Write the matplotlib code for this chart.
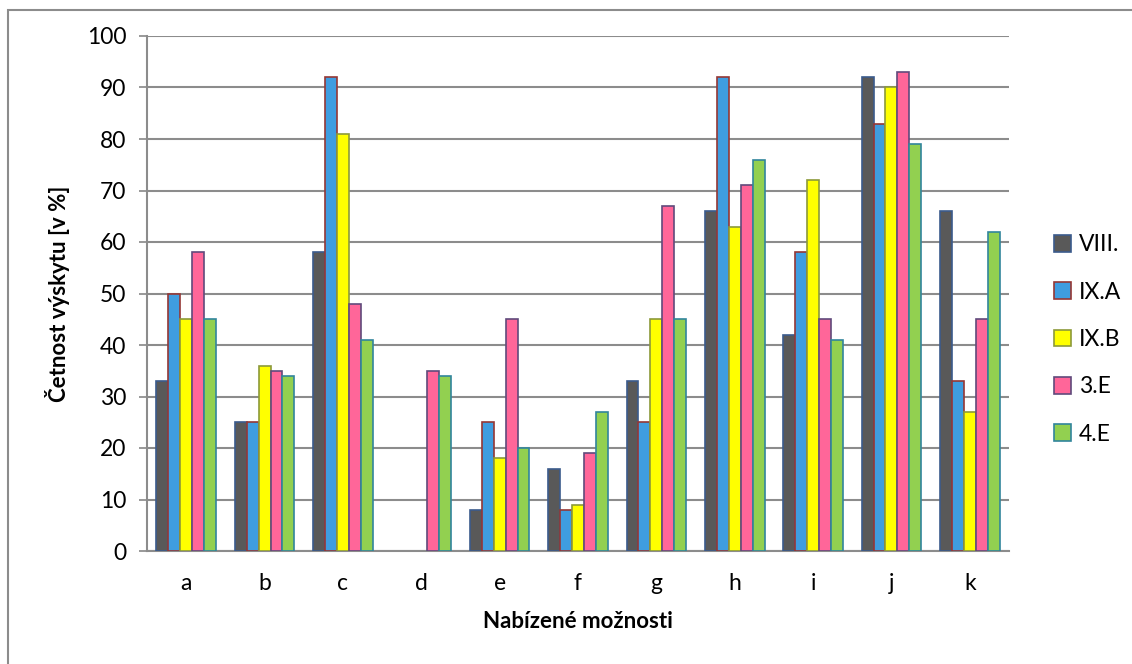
import matplotlib.pyplot as plt
import numpy as np
from matplotlib.patches import Rectangle

plt.rcParams['font.family'] = ['Lato', 'DejaVu Sans']

categories = ['a', 'b', 'c', 'd', 'e', 'f', 'g', 'h', 'i', 'j', 'k']
series = ['VIII.', 'IX.A', 'IX.B', '3.E', '4.E']
viii = [33, 25, 58, 0, 8, 16, 33, 66, 42, 92, 66]
ix_a = [50, 25, 92, 0, 25, 8, 25, 92, 58, 83, 33]
ix_b = [45, 36, 81, 0, 18, 9, 45, 63, 72, 90, 27]
e3 = [58, 35, 48, 35, 45, 19, 67, 71, 45, 93, 45]
e4 = [45, 34, 41, 34, 20, 27, 45, 76, 41, 79, 62]
values = [viii, ix_a, ix_b, e3, e4]

faces = ['#595959', '#3f9de0', '#ffff00', '#ff6699', '#92d050']
edges = ['#3b5b8c', '#953735', '#8c9a3a', '#604a7b', '#31859c']

fig = plt.figure(figsize=(11.32, 6.64), dpi=100, facecolor='white')
ax = fig.add_axes([147/1132, 1-551/664, 862/1132, 515/664])

x = np.arange(len(categories))
w = 0.152
for i, (name, vals) in enumerate(zip(series, values)):
    bars = ax.bar(x + (i-2)*w, vals, w, color=faces[i], edgecolor=edges[i],
                  linewidth=1.2, label=name, zorder=3)
    for b in bars:
        if b.get_height() == 0:
            b.set_visible(False)   # Excel draws nothing for zero

ax.set_xlim(-0.5, len(categories)-0.5)
ax.set_ylim(0, 100)
ax.set_yticks(range(0, 101, 10))
ax.set_xticks(x)
ax.set_xticklabels(categories)
ax.tick_params(axis='x', length=0, labelsize=16.5, pad=16)
ax.tick_params(axis='y', length=6, color='#888888', labelsize=16.5, pad=9, width=1.2)
ax.yaxis.grid(True, color='#8c8c8c', linewidth=1.5, zorder=0)
for s in ['top', 'right']:
    ax.spines[s].set_visible(False)
for s in ['left', 'bottom']:
    ax.spines[s].set_color('#8c8c8c')
    ax.spines[s].set_linewidth(1.5)

ax.set_ylabel('Četnost výskytu [v %]', fontsize=16, fontweight='bold', labelpad=12)
ax.set_xlabel('Nabízené možnosti', fontsize=16, fontweight='bold', labelpad=12)

ax.legend(loc='upper left', bbox_to_anchor=(1.028, 0.655), frameon=False,
          fontsize=16.5, labelspacing=1.15, handlelength=0.75, handleheight=0.75,
          handletextpad=0.35)

# outer chart border
fig.patches.append(Rectangle((8/1132, -0.1), 1.2, 1.1-10/664, transform=fig.transFigure,
                             fill=False, edgecolor='#8c8c8c', linewidth=1.5))

plt.savefig('out.png', dpi=100)
